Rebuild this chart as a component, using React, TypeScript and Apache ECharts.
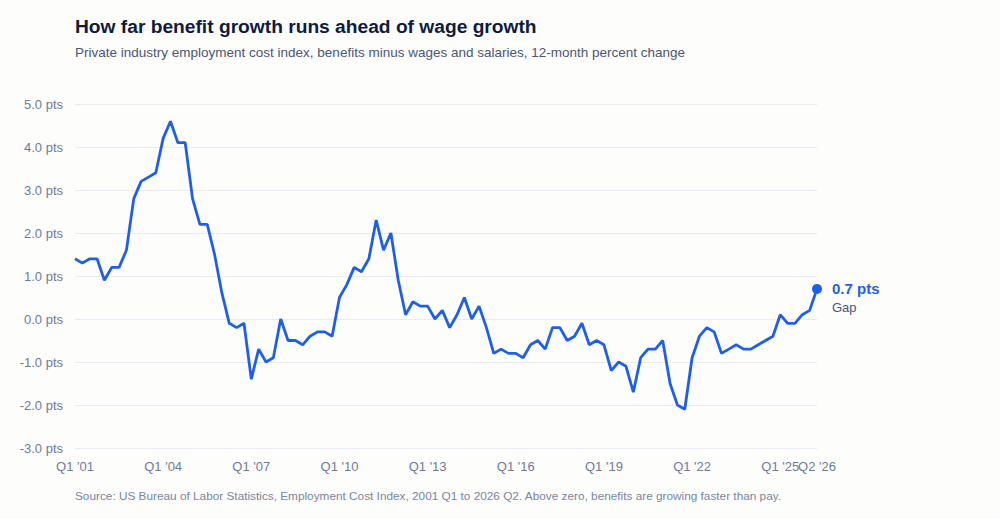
import React, { useEffect, useRef } from 'react'
import * as echarts from 'echarts'

// Quarterly gap, benefits minus wages & salaries (pct points), Q1 2001 .. Q2 2026
const startYear = 2001
const quarterCount = 102
const gapValues = [
  1.4, 1.3, 1.4, 1.4, 0.9, 1.2, 1.2, 1.6, 2.8, 3.2, 3.3, 3.4,
  4.2, 4.6, 4.1, 4.1, 2.8, 2.2, 2.2, 1.5, 0.6, -0.1, -0.2, -0.1,
  -1.4, -0.7, -1.0, -0.9, 0.0, -0.5, -0.5, -0.6, -0.4, -0.3, -0.3, -0.4,
  0.5, 0.8, 1.2, 1.1, 1.4, 2.3, 1.6, 2.0, 0.9, 0.1, 0.4, 0.3,
  0.3, 0.0, 0.2, -0.2, 0.1, 0.5, 0.0, 0.3, -0.2, -0.8, -0.7, -0.8,
  -0.8, -0.9, -0.6, -0.5, -0.7, -0.2, -0.2, -0.5, -0.4, -0.1, -0.6, -0.5,
  -0.6, -1.2, -1.0, -1.1, -1.7, -0.9, -0.7, -0.7, -0.5, -1.5, -2.0, -2.1,
  -0.9, -0.4, -0.2, -0.3, -0.8, -0.7, -0.6, -0.7, -0.7, -0.6, -0.5, -0.4,
  0.1, -0.1, -0.1, 0.1, 0.2, 0.7,
]
const yTicks = [-3, -2, -1, 0, 1, 2, 3, 4, 5]

const quarterLabels: string[] = []
for (let i = 0; i < quarterCount; i++) {
  const yr = startYear + Math.floor(i / 4)
  quarterLabels.push(`Q${(i % 4) + 1} '${String(yr).slice(2)}`)
}

const FONT = '"Liberation Sans", Arial, Helvetica, sans-serif'
const BLUE = '#1f5fe8'

const xLabelStyle = {
  color: '#6f7b98',
  fontSize: 13,
  margin: 12,
  fontFamily: FONT,
}

export default function App() {
  const chartRef = useRef<HTMLDivElement>(null)

  useEffect(() => {
    if (!chartRef.current) return
    const chart = echarts.init(chartRef.current, undefined, { renderer: 'svg' })
    const last = gapValues.length - 1

    // two bottom axes: yearly labels, and the final quarter on its own so neither gets hidden
    const baseAxis = {
      type: 'category',
      data: quarterLabels,
      boundaryGap: false,
      position: 'bottom',
      axisLine: { show: false },
      axisTick: { show: false },
      splitLine: { show: false },
    }

    chart.setOption({
      animation: false,
      backgroundColor: '#fdfdfc',
      textStyle: { fontFamily: FONT },
      title: {
        text: 'How far benefit growth runs ahead of wage growth',
        subtext: 'Private industry employment cost index, benefits minus wages and salaries, 12-month percent change',
        left: 70,
        top: 12,
        itemGap: 9,
        textStyle: { fontFamily: FONT, fontSize: 19.2, fontWeight: 'bold', color: '#0f1b3d' },
        subtextStyle: { fontFamily: FONT, fontSize: 13.5, color: '#4a5675' },
      },
      grid: { left: 75, right: 183, top: 104, bottom: 71 },
      xAxis: [
        {
          ...baseAxis,
          axisLabel: {
            ...xLabelStyle,
            interval: (i: number) => i % 12 === 0,
            showMinLabel: true,
            showMaxLabel: true,
          },
        },
        {
          ...baseAxis,
          axisLabel: {
            ...xLabelStyle,
            interval: (i: number) => i === quarterCount - 1,
          },
        },
      ],
      yAxis: {
        type: 'value',
        min: yTicks[0],
        max: yTicks[yTicks.length - 1],
        interval: 1,
        axisLine: { show: false },
        axisTick: { show: false },
        splitLine: { lineStyle: { color: '#e9ebf0', width: 1.2 } },
        axisLabel: {
          formatter: (v: number) => `${v.toFixed(1)} pts`,
          color: '#6f7b98',
          fontSize: 13,
          margin: 12,
          fontFamily: FONT,
        },
      },
      series: [
        {
          type: 'line',
          data: gapValues,
          showSymbol: false,
          lineStyle: { color: BLUE, width: 2.8 },
          z: 3,
        },
        {
          type: 'scatter',
          data: [[last, gapValues[last]]],
          symbol: 'circle',
          symbolSize: 10,
          itemStyle: { color: BLUE, opacity: 1 },
          z: 4,
          label: {
            show: true,
            position: 'right',
            distance: 10,
            offset: [0, 9.5],
            formatter: `{a|${gapValues[last].toFixed(1)} pts}\n{b|Gap}`,
            rich: {
              a: { fontFamily: FONT, fontSize: 15, fontWeight: 'bold', color: BLUE, lineHeight: 19 },
              b: { fontFamily: FONT, fontSize: 13, color: '#4a5675', lineHeight: 19 },
            },
          },
        },
      ],
      graphic: [
        {
          type: 'text',
          left: 75,
          top: 490,
          style: {
            text: 'Source: US Bureau of Labor Statistics, Employment Cost Index, 2001 Q1 to 2026 Q2. Above zero, benefits are growing faster than pay.',
            fontFamily: FONT,
            fontSize: 11.8,
            fill: '#7a85a0',
          },
        },
      ],
    })

    return () => {
      chart.dispose()
    }
  }, [])

  return (
    <div
      ref={chartRef}
      style={{ position: 'fixed', left: 0, top: 0, width: 1000, height: 519 }}
    />
  )
}
